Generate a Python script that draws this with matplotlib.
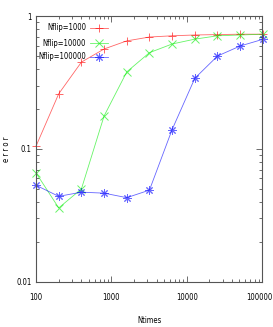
import matplotlib
matplotlib.use('Agg')
import matplotlib.pyplot as plt
import matplotlib.transforms as mtransforms
from matplotlib.ticker import FixedLocator, FixedFormatter, LogLocator, NullFormatter

ntimes = [100, 200, 400, 800, 1600, 3200, 6400, 12800, 25600, 51200, 102400]
err_1000 = [0.105, 0.26, 0.45, 0.565, 0.65, 0.695, 0.71, 0.72, 0.725, 0.73, 0.73]
err_10000 = [0.066, 0.036, 0.05, 0.177, 0.38, 0.53, 0.616, 0.67, 0.71, 0.72, 0.73]
err_100000 = [0.0533, 0.044, 0.0473, 0.0465, 0.043, 0.049, 0.14, 0.34, 0.5, 0.595, 0.668]

labels = ['Nflip=1000', 'Nflip=10000', 'Nflip=100000']
colors = ['#ff0000', '#00ee00', '#0000ff']
markers = ['+', 'x', (8, 2, 0)]

plt.rcParams['font.family'] = 'DejaVu Sans'
plt.rcParams['font.stretch'] = 'condensed'

fig = plt.figure(figsize=(2.73, 3.27), dpi=100)
ax = fig.add_axes([0.132, 0.138, 0.828, 0.813])

series = [err_1000, err_10000, err_100000]
leg_y = [0.955, 0.898, 0.846]
for ys, lab, c, m, ly in zip(series, labels, colors, markers, leg_y):
    ax.plot(ntimes, ys, color=c, lw=0.6, alpha=0.6, marker=m, markersize=6,
            markeredgewidth=0.7, clip_on=False)
    # gnuplot-style legend entry: right-aligned text, then sample line
    ax.text(0.221, ly, lab, transform=ax.transAxes, ha='right', va='center',
            fontsize=5.5)
    ax.plot([0.239, 0.319], [ly, ly], transform=ax.transAxes, color=c,
            lw=0.6, alpha=0.6)
    ax.plot([0.279], [ly], transform=ax.transAxes, color=c, alpha=0.6,
            marker=m, markersize=6, markeredgewidth=0.7)

ax.set_xscale('log')
ax.set_yscale('log')
ax.set_xlim(100, 100000)
ax.set_ylim(0.01, 1)

ax.xaxis.set_major_locator(FixedLocator([100, 1000, 10000, 100000]))
ax.xaxis.set_major_formatter(FixedFormatter(['100', '1000', '10000', '100000']))
ax.yaxis.set_major_locator(FixedLocator([0.01, 0.1, 1]))
ax.yaxis.set_major_formatter(FixedFormatter(['0.01', '0.1', '1']))
for a in (ax.xaxis, ax.yaxis):
    a.set_minor_locator(LogLocator(base=10, subs=range(2, 10)))
    a.set_minor_formatter(NullFormatter())

ax.tick_params(which='both', direction='in', top=True, right=True,
               labelsize=5.5, color='#555555', width=0.6)
ax.tick_params(axis='x', pad=8)
ax.tick_params(axis='y', pad=3)
ax.tick_params(which='major', length=4)
ax.tick_params(which='minor', length=2)
for s in ax.spines.values():
    s.set_color('#555555')
    s.set_linewidth(0.8)

ax.set_xlabel('Ntimes', fontsize=5.5)
ax.xaxis.set_label_coords(0.5, -0.13)
ax.set_ylabel('e r r o r', fontsize=5.5)
ax.yaxis.set_label_coords(-0.11, 0.5)

fig.canvas.draw()
last = ax.get_xticklabels()[-1]
last.set_transform(last.get_transform() +
                   mtransforms.ScaledTranslation(-3 / 100, 0, fig.dpi_scale_trans))

fig.savefig('out.png', dpi=100)
